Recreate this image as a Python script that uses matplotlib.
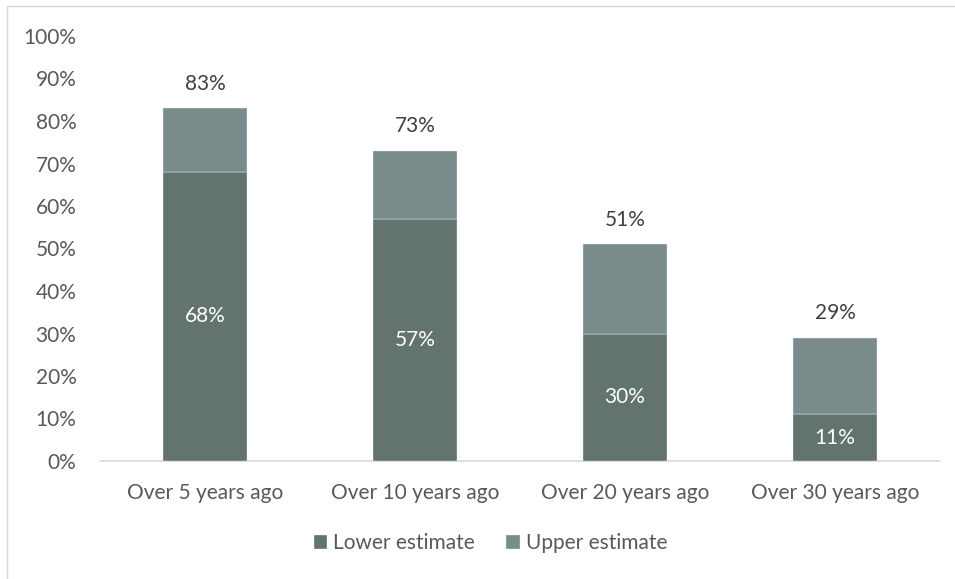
import matplotlib
matplotlib.use("Agg")
import matplotlib.pyplot as plt
from matplotlib.patches import Rectangle
from matplotlib.ticker import FuncFormatter

categories = ["Over 5 years ago", "Over 10 years ago", "Over 20 years ago", "Over 30 years ago"]
lower = [68, 57, 30, 11]
total = [83, 73, 51, 29]
upper = [t - l for t, l in zip(total, lower)]

lower_color = "#637370"
upper_color = "#7a8b8c"
text_color = "#595959"

plt.rcParams["font.family"] = ["Lato", "DejaVu Sans"]

fig = plt.figure(figsize=(9.55, 5.79), dpi=100)
ax = fig.add_axes([100 / 955, 118 / 579, 840 / 955, 425 / 579])

x = list(range(len(categories)))
ax.bar(x, lower, width=0.4, color=lower_color, edgecolor="#e8eded", linewidth=0.3,
       label="Lower estimate", zorder=3)
ax.bar(x, upper, width=0.4, bottom=lower, color=upper_color, edgecolor="#e8eded",
       linewidth=0.3, label="Upper estimate", zorder=3)

for i in x:
    ax.text(i, lower[i] / 2, f"{lower[i]}%", ha="center", va="center",
            color="white", fontsize=15)
    ax.text(i, total[i] + 5.8, f"{total[i]}%", ha="center", va="center",
            color="#404040", fontsize=15)

ax.set_xlim(-0.5, 3.5)
ax.set_ylim(0, 100)
ax.set_yticks(range(0, 101, 10))
ax.yaxis.set_major_formatter(FuncFormatter(lambda v, p: f"{v:.0f}%"))
ax.set_xticks(x)
ax.set_xticklabels(categories)
ax.tick_params(axis="both", length=0, labelsize=15, colors=text_color)
ax.tick_params(axis="y", pad=17)
ax.tick_params(axis="x", pad=16)
for s in ["top", "right", "left"]:
    ax.spines[s].set_visible(False)
ax.spines["bottom"].set_color("#d9d9d9")
ax.spines["bottom"].set_linewidth(1.2)

ax.legend(loc="center", bbox_to_anchor=(0.465, -0.193), ncol=2, frameon=False,
          fontsize=15, handlelength=0.65, handleheight=0.65, handletextpad=0.3,
          columnspacing=1.5, labelcolor=text_color)

fig.patches.append(Rectangle((7 / 955, -0.01), 960 / 955, 1 - 6 / 579 + 0.01,
                             transform=fig.transFigure, fill=False,
                             edgecolor="#d9d9d9", linewidth=1))

fig.savefig("out.png", dpi=100)
